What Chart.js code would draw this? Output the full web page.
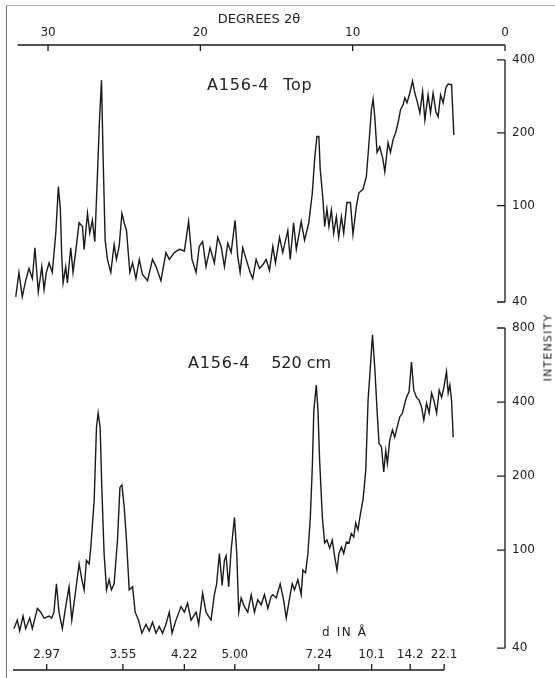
<!DOCTYPE html>
<html>
<head>
<meta charset="utf-8">
<script src="https://cdn.jsdelivr.net/npm/chart.js@4.4.1/dist/chart.umd.min.js"></script>
<style>
  body { margin: 0; background: #fff; }
  #wrap { position: relative; width: 555px; height: 678px; overflow: hidden; font-family: "DejaVu Sans", sans-serif; color: #222; }
  #frame { position: absolute; left: 6px; top: 5px; width: 600px; height: 700px; border-left: 1.5px solid #777; border-top: 1px solid #aaa; }
  canvas { position: absolute; left: 0; }
  .lbl { position: absolute; white-space: nowrap; line-height: 1; }
</style>
</head>
<body>
<div id="wrap">
  <div id="frame"></div>
  <canvas id="chart-top" width="555" height="312" style="top:0"></canvas>
  <canvas id="chart-bottom" width="555" height="366" style="top:312px"></canvas>
  <div class="lbl" style="left:207px;top:77px;font-size:16px;letter-spacing:0.8px;">A156-4 <span style="margin-left:8px">Top</span></div>
  <div class="lbl" style="left:188px;top:355px;font-size:16px;letter-spacing:0.8px;">A156-4 <span style="margin-left:15px;letter-spacing:0;">520 cm</span></div>
  <div class="lbl" style="left:322px;top:626px;font-size:12px;letter-spacing:1.6px;">d IN Å</div>
  <div class="lbl" style="left:514px;top:342px;font-size:11px;letter-spacing:1.2px;transform:rotate(-90deg);transform-origin:center;">INTENSITY</div>
</div>
<script>
// degrees 2-theta and counts
const topTheta = [32.12, 31.91, 31.69, 31.47, 31.25, 31.03, 30.86, 30.64, 30.41, 30.26,
  30.11, 29.93, 29.72, 29.49, 29.32, 29.19, 29.10, 29.01, 28.84, 28.73,
  28.51, 28.36, 28.18, 27.96, 27.74, 27.63, 27.41, 27.26, 27.09, 26.93,
  26.76, 26.64, 26.49, 26.38, 26.25, 26.10, 25.88, 25.66, 25.51, 25.33,
  25.15, 25.00, 24.85, 24.63, 24.45, 24.23, 24.01, 23.80, 23.47, 23.14,
  22.91, 22.59, 22.26, 22.04, 21.71, 21.38, 21.05, 20.77, 20.55, 20.28,
  20.07, 19.85, 19.63, 19.36, 19.08, 18.86, 18.64, 18.42, 18.20, 17.98,
  17.72, 17.55, 17.39, 17.22, 16.99, 16.73, 16.56, 16.34, 16.12, 15.90,
  15.68, 15.46, 15.24, 15.07, 14.80, 14.59, 14.26, 14.10, 13.88, 13.70,
  13.38, 13.16, 12.88, 12.65, 12.50, 12.35, 12.22, 12.13, 11.95, 11.84,
  11.69, 11.56, 11.40, 11.25, 11.07, 10.92, 10.74, 10.59, 10.38, 10.15,
  9.98, 9.76, 9.59, 9.32, 9.10, 8.93, 8.77, 8.66, 8.55, 8.40,
  8.22, 8.01, 7.89, 7.68, 7.52, 7.35, 7.17, 7.02, 6.86, 6.69,
  6.58, 6.43, 6.25, 6.07, 5.92, 5.74, 5.59, 5.41, 5.26, 5.05,
  4.89, 4.72, 4.54, 4.39, 4.23, 4.06, 3.88, 3.73, 3.51, 3.44, 3.36];
const topIntensity = [42, 53, 42, 49, 55, 50, 67, 44, 56, 45,
  53, 58, 53, 77, 120, 96, 62, 48, 56, 48,
  67, 53, 65, 85, 82, 66, 93, 77, 87, 71,
  132, 212, 330, 155, 72, 60, 53, 69, 60, 68,
  93, 85, 79, 53, 58, 50, 60, 52, 49, 60,
  56, 49, 64, 60, 64, 66, 65, 86, 60, 53,
  68, 71, 56, 67, 58, 74, 68, 56, 70, 64,
  87, 62, 53, 67, 60, 53, 50, 60, 55, 57,
  60, 54, 68, 58, 74, 64, 79, 60, 85, 66,
  86, 72, 85, 113, 155, 193, 193, 141, 106, 82,
  97, 82, 96, 77, 90, 74, 90, 77, 103, 103,
  76, 99, 113, 117, 132, 182, 249, 276, 233, 166,
  175, 155, 138, 182, 166, 187, 201, 220, 249, 261,
  279, 266, 292, 327, 292, 266, 242, 296, 226, 287,
  242, 292, 245, 233, 287, 266, 307, 318, 316, 256, 196];

const bottomTheta = [32.24, 32.02, 31.86, 31.64, 31.47, 31.20, 31.03, 30.70, 30.48, 30.26,
  29.93, 29.76, 29.61, 29.45, 29.28, 29.06, 28.84, 28.62, 28.44, 28.22,
  27.96, 27.78, 27.63, 27.48, 27.30, 27.19, 26.97, 26.82, 26.71, 26.58,
  26.47, 26.32, 26.16, 25.99, 25.84, 25.66, 25.44, 25.28, 25.15, 25.00,
  24.85, 24.67, 24.45, 24.28, 24.06, 23.84, 23.57, 23.36, 23.14, 22.91,
  22.70, 22.48, 22.26, 22.04, 21.86, 21.60, 21.27, 21.05, 20.84, 20.61,
  20.28, 20.11, 19.85, 19.63, 19.30, 19.08, 18.93, 18.75, 18.57, 18.42,
  18.31, 18.14, 17.98, 17.76, 17.61, 17.48, 17.32, 17.11, 16.89, 16.66,
  16.45, 16.23, 16.01, 15.79, 15.57, 15.35, 15.24, 15.02, 14.76, 14.54,
  14.36, 14.14, 13.97, 13.82, 13.60, 13.38, 13.27, 13.09, 12.94, 12.78,
  12.65, 12.55, 12.39, 12.28, 12.17, 11.99, 11.84, 11.69, 11.51, 11.34,
  11.18, 11.03, 10.90, 10.74, 10.59, 10.41, 10.24, 10.09, 9.93, 9.80,
  9.65, 9.49, 9.32, 9.14, 8.99, 8.84, 8.70, 8.55, 8.40, 8.27,
  8.11, 7.96, 7.83, 7.72, 7.57, 7.39, 7.24, 7.09, 6.91, 6.73,
  6.58, 6.47, 6.30, 6.14, 5.99, 5.81, 5.64, 5.48, 5.33, 5.15,
  4.98, 4.82, 4.67, 4.49, 4.32, 4.16, 4.01, 3.84, 3.73, 3.62,
  3.51, 3.40];
const bottomIntensity = [48, 52, 47, 54, 48, 53, 48, 58, 56, 53,
  54, 53, 56, 73, 56, 48, 59, 71, 52, 66,
  88, 76, 69, 91, 88, 103, 160, 316, 361, 316,
  180, 97, 69, 76, 69, 73, 110, 180, 184, 150,
  110, 69, 71, 56, 52, 46, 50, 47, 51, 46,
  49, 46, 50, 56, 46, 52, 59, 56, 61, 52,
  56, 50, 67, 56, 52, 66, 73, 97, 72, 91,
  95, 71, 100, 136, 97, 56, 64, 59, 56, 66,
  56, 63, 60, 66, 58, 65, 66, 64, 73, 63,
  53, 64, 73, 69, 76, 66, 83, 81, 97, 136,
  218, 371, 469, 371, 232, 136, 107, 110, 102, 110,
  94, 83, 97, 103, 97, 108, 107, 117, 113, 129,
  121, 141, 160, 212, 407, 554, 750, 554, 371, 272,
  263, 208, 254, 225, 280, 308, 288, 314, 348, 361,
  395, 418, 440, 582, 447, 418, 407, 382, 338, 395,
  361, 435, 407, 361, 447, 418, 460, 531, 435, 469,
  407, 288];

const degreeTicks = [0, 10, 20, 30];
const topIntensityTicks = [40, 100, 200, 400];
const bottomIntensityTicks = [40, 100, 200, 400, 800];
const dLabels = ['2.97', '3.55', '4.22', '5.00', '7.24', '10.1', '14.2', '22.1'];

// d-spacing -> 2 theta for Cu K-alpha
const LAMBDA = 1.5418;
const toTheta = d => 2 * Math.asin(LAMBDA / (2 * d)) * 180 / Math.PI;
const dThetas = dLabels.map(d => toTheta(parseFloat(d)));

Chart.defaults.font.family = '"DejaVu Sans", sans-serif';
Chart.defaults.color = '#222';

const ink = '#1a1a1a';

// draws the axis lines and inward tick marks the way the plate has them
const axisLines = {
    id: 'axisLines',
    afterDraw(chart, args, o) {
        const {ctx, chartArea, scales: {x, y}} = chart;
        ctx.save();
        ctx.strokeStyle = ink;
        ctx.lineWidth = 1.3;
        const xy = o.xSide === 'top' ? chartArea.top : chartArea.bottom;
        const dir = o.xSide === 'top' ? 1 : -1;
        ctx.beginPath();
        ctx.moveTo(x.getPixelForValue(o.xFrom), xy);
        ctx.lineTo(x.getPixelForValue(o.xTo), xy);
        o.xTicks.forEach(v => {
            const px = x.getPixelForValue(v);
            ctx.moveTo(px, xy);
            ctx.lineTo(px, xy + dir * 6);
        });
        const rx = chartArea.right;
        ctx.moveTo(rx, y.getPixelForValue(o.yFrom));
        ctx.lineTo(rx, y.getPixelForValue(o.yTo));
        o.yTicks.forEach(v => {
            const py = y.getPixelForValue(v);
            ctx.moveTo(rx, py);
            ctx.lineTo(rx - 8, py);
        });
        ctx.stroke();
        ctx.restore();
    }
};

// no extra room for half-labels at the scale ends
const noEndPadding = s => {
    s.paddingTop = 0;
    s.paddingBottom = 0;
    s.paddingLeft = 0;
    s.paddingRight = 0;
};

const yAxis = (min, max, ticks) => ({
    type: 'logarithmic',
    position: 'right',
    min: min,
    max: max,
    afterBuildTicks: s => { s.ticks = ticks.map(v => ({value: v})); },
    afterFit: s => { s.width = 50; noEndPadding(s); },
    border: {display: false},
    grid: {display: false, drawTicks: false},
    ticks: {padding: 7, font: {size: 12}, callback: v => String(v)}
});

const lineSet = (theta, counts) => ({
    data: theta.map((t, i) => ({x: t, y: counts[i]})),
    borderColor: ink,
    borderWidth: 1.4,
    pointRadius: 0,
    tension: 0
});

// top trace
const ctx1 = document.getElementById('chart-top');
const chart1 = new Chart(ctx1, {
    type: 'line',
    data: {datasets: [lineSet(topTheta, topIntensity)]},
    options: {
        responsive: false,
        animation: false,
        layout: {padding: {left: 13, right: 0, top: 0, bottom: 10}},
        scales: {
            x: {
                type: 'linear',
                position: 'top',
                reverse: true,
                min: 0,
                max: 32.3,
                afterBuildTicks: s => { s.ticks = degreeTicks.map(v => ({value: v})); },
                afterFit: s => { s.height = 45; noEndPadding(s); },
                border: {display: false},
                grid: {display: false, drawTicks: false},
                ticks: {padding: 5, autoSkip: false, maxRotation: 0, font: {size: 12}},
                title: {display: true, text: 'DEGREES 2θ', padding: {top: 12, bottom: 0}, font: {size: 13}}
            },
            y: yAxis(40, 461, topIntensityTicks)
        },
        plugins: {
            legend: {display: false},
            tooltip: {enabled: false},
            axisLines: {xSide: 'top', xFrom: 32, xTo: 0, xTicks: degreeTicks, yFrom: 400, yTo: 40, yTicks: topIntensityTicks}
        }
    },
    plugins: [axisLines]
});

// bottom trace
const ctx2 = document.getElementById('chart-bottom');
const chart2 = new Chart(ctx2, {
    type: 'line',
    data: {datasets: [lineSet(bottomTheta, bottomIntensity)]},
    options: {
        responsive: false,
        animation: false,
        layout: {padding: {left: 13, right: 0, top: 16, bottom: 0}},
        scales: {
            x: {
                type: 'linear',
                position: 'bottom',
                reverse: true,
                min: 0,
                max: 32.3,
                afterBuildTicks: s => { s.ticks = dThetas.map(v => ({value: v})); },
                afterFit: s => { s.height = 8; noEndPadding(s); },
                border: {display: false},
                grid: {display: false, drawTicks: false},
                // mirrored so the d labels sit above the axis line, as on the plate
                ticks: {mirror: true, padding: 8, autoSkip: false, maxRotation: 0, font: {size: 12},
                    callback: (v, i) => dLabels[i]}
            },
            y: yAxis(32.6, 800, bottomIntensityTicks)
        },
        plugins: {
            legend: {display: false},
            tooltip: {enabled: false},
            axisLines: {xSide: 'bottom', xFrom: 32.3, xTo: toTheta(22.1), xTicks: dThetas, yFrom: 800, yTo: 40, yTicks: bottomIntensityTicks}
        }
    },
    plugins: [axisLines]
});
</script>
</body>
</html>
